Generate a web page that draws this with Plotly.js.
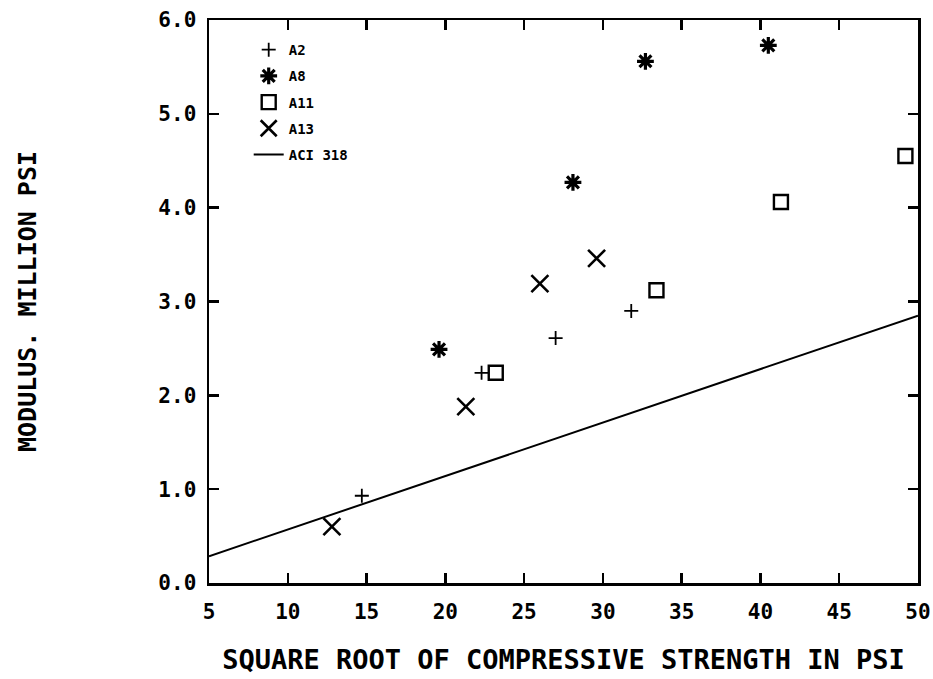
<!DOCTYPE html>
<html>
<head>
<meta charset="utf-8">
<script src="https://cdn.plot.ly/plotly-3.0.1.min.js"></script>
<style>html,body{margin:0;padding:0;background:#fff;}#chart{width:933px;height:679px;}</style>
</head>
<body>
<div id="chart"></div>
<script>
// Data
var a2X  = [14.7, 22.3, 27.0, 31.8];
var a2Y  = [0.93, 2.24, 2.61, 2.90];
var a8X  = [19.6, 28.1, 32.7, 40.5];
var a8Y  = [2.49, 4.27, 5.56, 5.73];
var a11X = [23.2, 33.4, 41.3, 49.2];
var a11Y = [2.24, 3.12, 4.06, 4.55];
var a13X = [12.8, 21.3, 26.0, 29.6];
var a13Y = [0.60, 1.88, 3.19, 3.46];
var aciX = [5, 50];
var aciY = [0.285, 2.85];
var xTicks = [5, 10, 15, 20, 25, 30, 35, 40, 45, 50];
var yTicks = [0, 1, 2, 3, 4, 5, 6];

var FONT = 'DejaVu Sans Mono, monospace';

var traces = [
  {x: a2X, y: a2Y, name: 'A2', mode: 'markers', legendgroup: 'g1',
   marker: {symbol: 'cross-thin-open', size: 10, color: '#000', line: {width: 1.8, color: '#000'}}},
  {x: a8X, y: a8Y, name: 'A8', mode: 'markers', legendgroup: 'g2',
   marker: {symbol: 'asterisk-open', size: 14, color: '#000', line: {width: 3.2, color: '#000'}}},
  {x: a11X, y: a11Y, name: 'A11', mode: 'markers', legendgroup: 'g3',
   marker: {symbol: 'square-open', size: 14, color: '#000', line: {width: 2.4, color: '#000'}}},
  {x: a13X, y: a13Y, name: 'A13', mode: 'markers', legendgroup: 'g4',
   marker: {symbol: 'x-thin-open', size: 17, color: '#000', line: {width: 2.6, color: '#000'}}},
  {x: aciX, y: aciY, name: 'ACI 318', mode: 'lines', legendgroup: 'g5',
   line: {color: '#000', width: 2}}
];

var axisCommon = {
  showline: true, linecolor: '#000', linewidth: 2.5, mirror: 'ticks',
  ticks: 'inside', ticklen: 10, tickwidth: 2.5, tickcolor: '#000',
  showgrid: false, zeroline: false,
  tickfont: {family: FONT, size: 21, color: '#000', weight: 700}
};

var layout = {
  width: 933, height: 679,
  margin: {l: 209, r: 15, t: 20, b: 96},
  paper_bgcolor: '#fff', plot_bgcolor: '#fff',
  showlegend: true,
  legend: {
    x: 0.056, y: 0.975, xanchor: 'left', yanchor: 'top',
    bgcolor: 'rgba(0,0,0,0)', borderwidth: 0,
    traceorder: 'grouped', tracegroupgap: 5,
    font: {family: FONT, size: 14, color: '#000', weight: 700}
  },
  xaxis: Object.assign({}, axisCommon, {
    range: [5, 50], tickvals: xTicks, ticktext: xTicks.map(String),
    ticklabelstandoff: 8,
    title: {text: 'SQUARE ROOT OF COMPRESSIVE STRENGTH IN PSI', standoff: 28,
            font: {family: FONT, size: 27, color: '#000', weight: 700}}
  }),
  yaxis: Object.assign({}, axisCommon, {
    range: [0, 6], tickvals: yTicks, ticktext: yTicks.map(function(v){return v.toFixed(1);}),
    ticklabelstandoff: 6,
    title: {text: 'MODULUS. MILLION PSI', standoff: 115,
            font: {family: FONT, size: 25, color: '#000', weight: 700}}
  })
};

Plotly.newPlot('chart', traces, layout, {displayModeBar: false, staticPlot: true});
</script>
</body>
</html>
